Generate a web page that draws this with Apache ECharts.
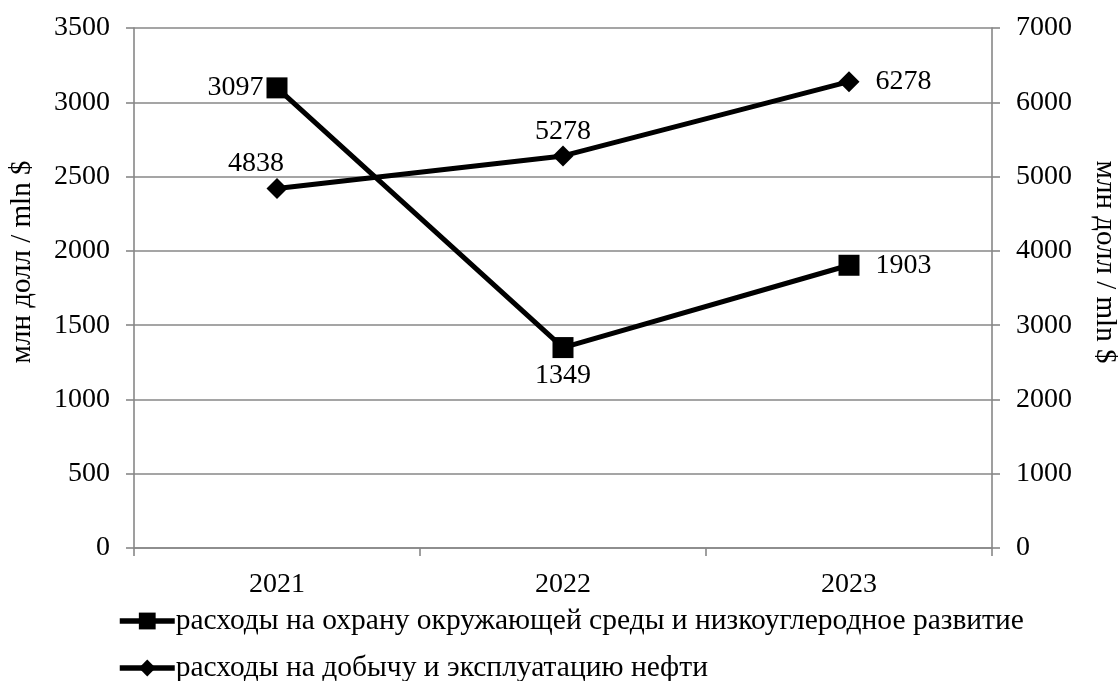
<!DOCTYPE html>
<html>
<head>
<meta charset="utf-8">
<script src="https://cdn.jsdelivr.net/npm/echarts@6/dist/echarts.min.js"></script>
<style>
  html, body { margin: 0; padding: 0; background: #fff; }
  #chart { width: 1118px; height: 681px; }
</style>
</head>
<body>
<div id="chart"></div>
<script>
// Years on the category axis
const years = ['2021', '2022', '2023'];
// Spending on environmental protection and low-carbon development (left axis)
const envSpending = [3097, 1349, 1903];
// Spending on oil production and operation (right axis)
const oilSpending = [4838, 5278, 6278];
const seriesNames = [
  'расходы на охрану окружающей среды и низкоуглеродное развитие',
  'расходы на добычу и эксплуатацию нефти'
];
const axisName = 'млн долл / mln $';

const FONT = 'Liberation Serif';
const GRAY = '#878787';
const gridLine = { show: true, lineStyle: { color: GRAY, width: 1.6 } };
const axisLine = { show: true, lineStyle: { color: GRAY, width: 1.6 } };
const tickStyle = { show: true, length: 8, lineStyle: { color: GRAY, width: 1.6 } };
const numText = { fontFamily: FONT, fontSize: 28, color: '#000' };
const plain = v => String(v);

const chart = echarts.init(document.getElementById('chart'), null, { renderer: 'canvas' });

// Per-point label placement around the markers
const envData = envSpending.map((v, i) => ({
  value: v,
  label: [
    { position: 'left', distance: 3 },
    { position: 'bottom', distance: 4 },
    { position: 'right', distance: 16 }
  ][i]
}));
const oilData = oilSpending.map((v, i) => ({
  value: v,
  label: [
    { position: 'top', distance: 0, offset: [-21, 0] },
    { position: 'top', distance: 0 },
    { position: 'right', distance: 16 }
  ][i]
}));

// One legend row per series, stacked under the axis
const legendRow = (name, top) => ({
  orient: 'horizontal',
  left: 112,
  top: top,
  itemWidth: 55,
  itemHeight: 21,
  lineStyle: { width: 5.5 },
  textStyle: { fontFamily: FONT, fontSize: 29.5, color: '#000', padding: [0, 0, 0, -4] },
  data: [name]
});

chart.setOption({
  animation: false,
  backgroundColor: '#fff',
  grid: { left: 134, right: 126, top: 28, bottom: 133, outerBoundsMode: 'none' },
  xAxis: {
    type: 'category',
    data: years,
    boundaryGap: true,
    axisLine: axisLine,
    axisTick: tickStyle,
    axisLabel: Object.assign({ margin: 23 }, numText),
    splitLine: { show: false }
  },
  yAxis: [
    {
      type: 'value', min: 0, max: 3500, interval: 500,
      axisLine: axisLine,
      axisTick: tickStyle,
      splitLine: gridLine,
      axisLabel: Object.assign({ margin: 24, formatter: plain }, numText),
      name: axisName,
      nameLocation: 'middle',
      nameRotate: 90,
      nameGap: 97,
      nameTextStyle: { fontFamily: FONT, fontSize: 29, color: '#000', padding: [0, 0, 0, 52] }
    },
    {
      type: 'value', min: 0, max: 7000, interval: 1000,
      position: 'right',
      axisLine: axisLine,
      axisTick: tickStyle,
      splitLine: { show: false },
      axisLabel: Object.assign({ margin: 24, formatter: plain }, numText),
      name: axisName,
      nameLocation: 'middle',
      nameRotate: -90,
      nameGap: 98,
      nameTextStyle: { fontFamily: FONT, fontSize: 29, color: '#000', padding: [0, 52, 0, 0] }
    }
  ],
  legend: [
    legendRow(seriesNames[0], 601),
    legendRow(seriesNames[1], 648)
  ],
  series: [
    {
      name: seriesNames[0],
      type: 'line',
      yAxisIndex: 0,
      data: envData,
      symbol: 'rect',
      symbolSize: 21,
      lineStyle: { color: '#000', width: 5 },
      itemStyle: { color: '#000' },
      label: Object.assign({ show: true }, numText),
      emphasis: { disabled: true }
    },
    {
      name: seriesNames[1],
      type: 'line',
      yAxisIndex: 1,
      data: oilData,
      symbol: 'diamond',
      symbolSize: 21,
      lineStyle: { color: '#000', width: 5 },
      itemStyle: { color: '#000' },
      label: Object.assign({ show: true }, numText),
      emphasis: { disabled: true }
    }
  ]
});
</script>
</body>
</html>
